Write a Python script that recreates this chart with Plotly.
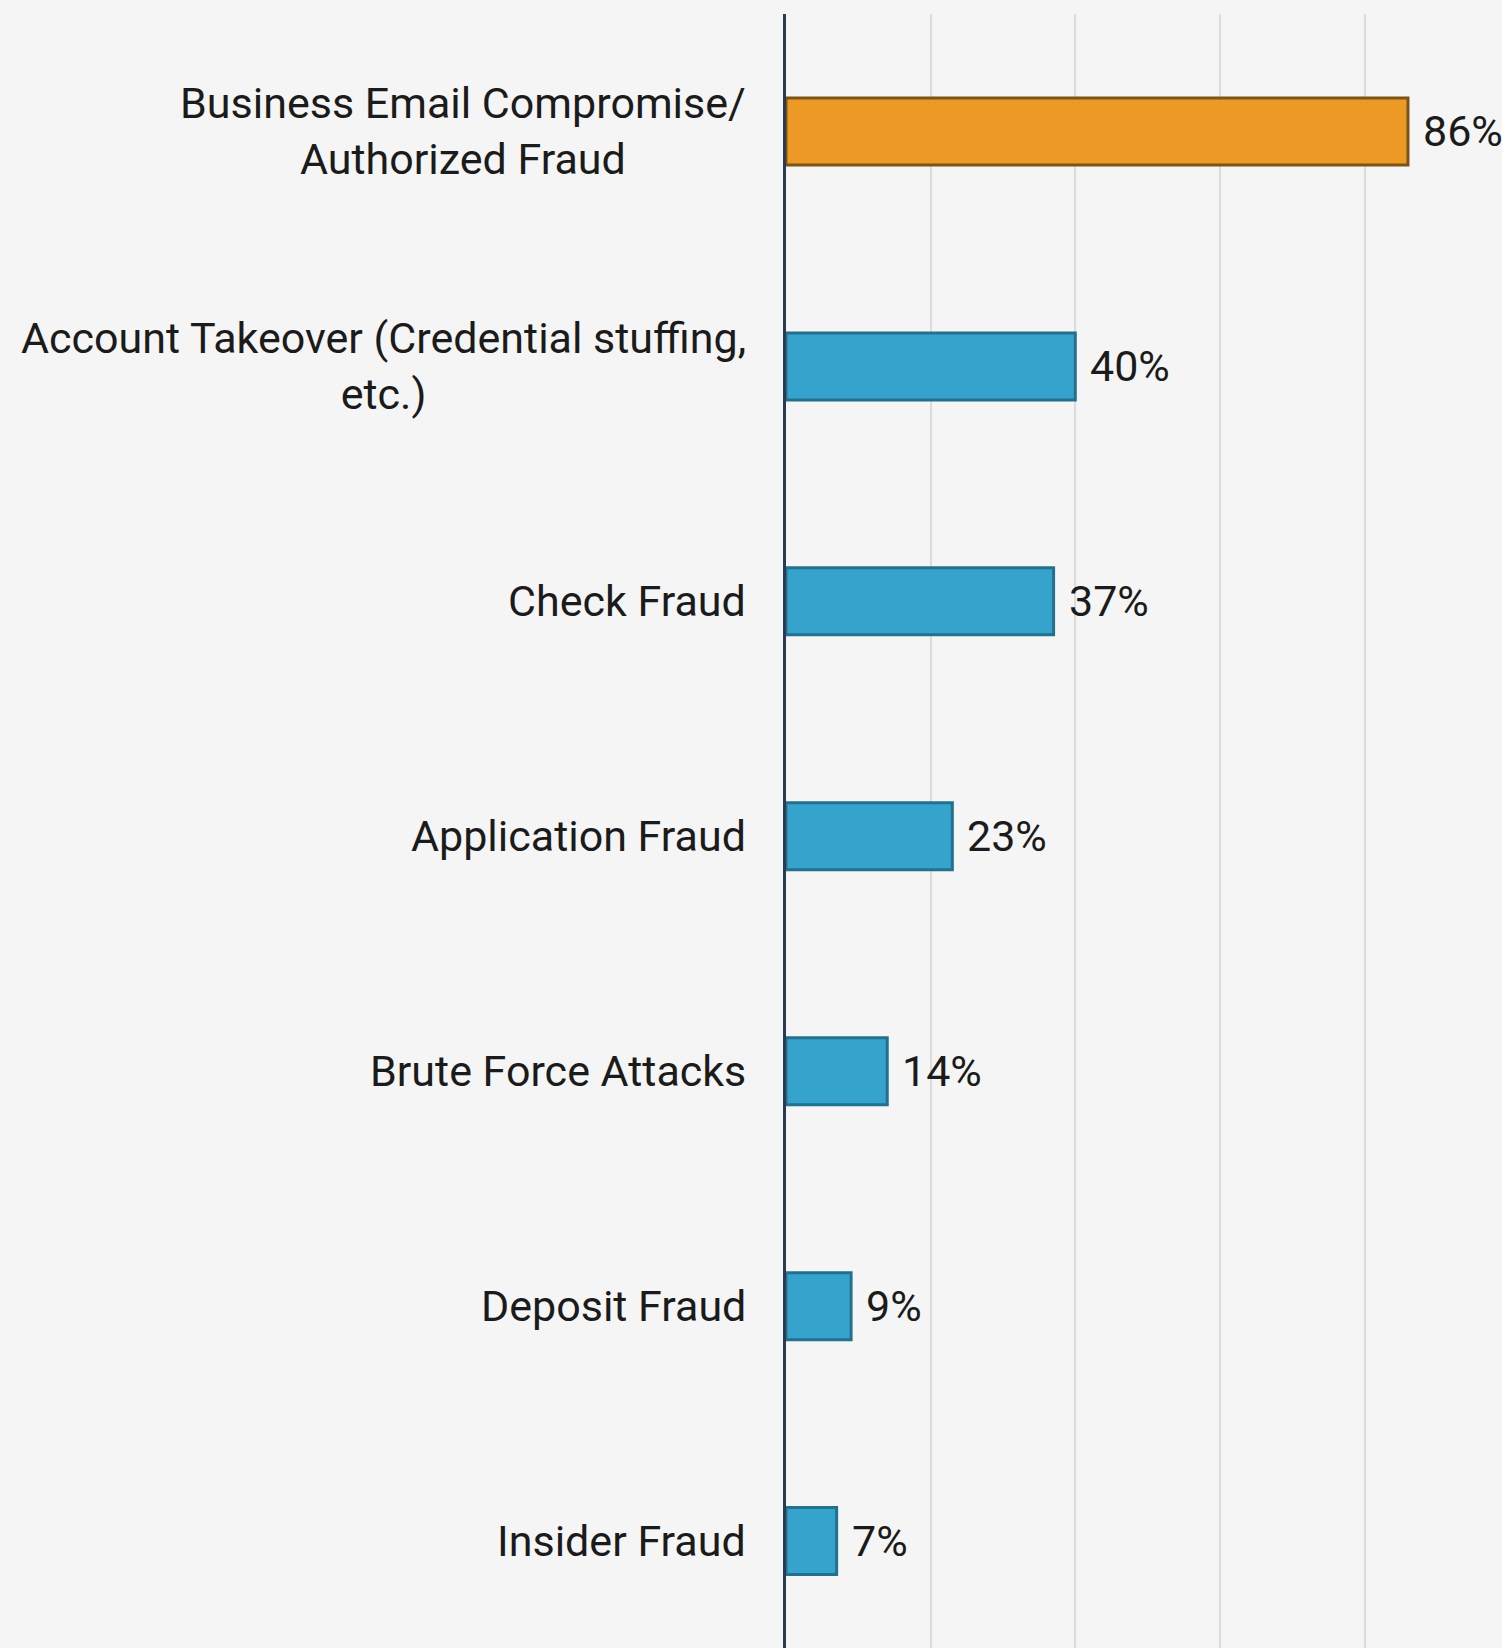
import plotly.graph_objects as go

# Fraud types and share of respondents (%)
categories = [
    "Business Email Compromise/<br>Authorized Fraud",
    "Account Takeover (Credential stuffing,<br>etc.)",
    "Check Fraud",
    "Application Fraud",
    "Brute Force Attacks",
    "Deposit Fraud",
    "Insider Fraud",
]
values = [86, 40, 37, 23, 14, 9, 7]
highlight = [True, False, False, False, False, False, False]

ORANGE, ORANGE_EDGE = "#EC9A25", "#7C5416"
BLUE, BLUE_EDGE = "#36A3CC", "#24718F"
TEXT = "#1b1b1b"
FONT = "Roboto"
SIZE = 43

fill = [ORANGE if h else BLUE for h in highlight]
edge = [ORANGE_EDGE if h else BLUE_EDGE for h in highlight]
ypos = list(range(len(categories)))

fig = go.Figure(
    go.Bar(
        x=values,
        y=ypos,
        orientation="h",
        marker=dict(color=fill, line=dict(color=edge, width=3)),
        width=0.285,
        hoverinfo="skip",
    )
)

annotations = []
# category labels, centred line by line, to the left of the axis
for y, label in zip(ypos, categories):
    annotations.append(dict(
        x=0, xref="paper", y=y, yref="y", text=label, showarrow=False,
        xanchor="right", yanchor="middle", align="center", xshift=-38,
        font=dict(family=FONT, size=SIZE, color=TEXT),
    ))
# value labels at the end of each bar
for y, v in zip(ypos, values):
    annotations.append(dict(
        x=v, xref="x", y=y, yref="y", text=f"{v}%", showarrow=False,
        xanchor="left", yanchor="middle", xshift=13,
        font=dict(family=FONT, size=SIZE, color=TEXT),
    ))

fig.update_layout(
    width=1502, height=1648,
    margin=dict(l=786, r=0, t=14, b=0),
    paper_bgcolor="#F5F5F5", plot_bgcolor="#F5F5F5",
    showlegend=False,
    annotations=annotations,
    xaxis=dict(
        range=[0, 99.0], dtick=20, tick0=0, showticklabels=False,
        showgrid=True, gridcolor="#DCDCDC", gridwidth=2,
        zeroline=False, showline=False, fixedrange=True,
    ),
    yaxis=dict(
        range=[len(categories) - 0.545, -0.5], showticklabels=False,
        showgrid=False, zeroline=False,
        showline=True, linecolor="#2B3A4F", linewidth=3,
    ),
)

fig.write_html("out.html")
